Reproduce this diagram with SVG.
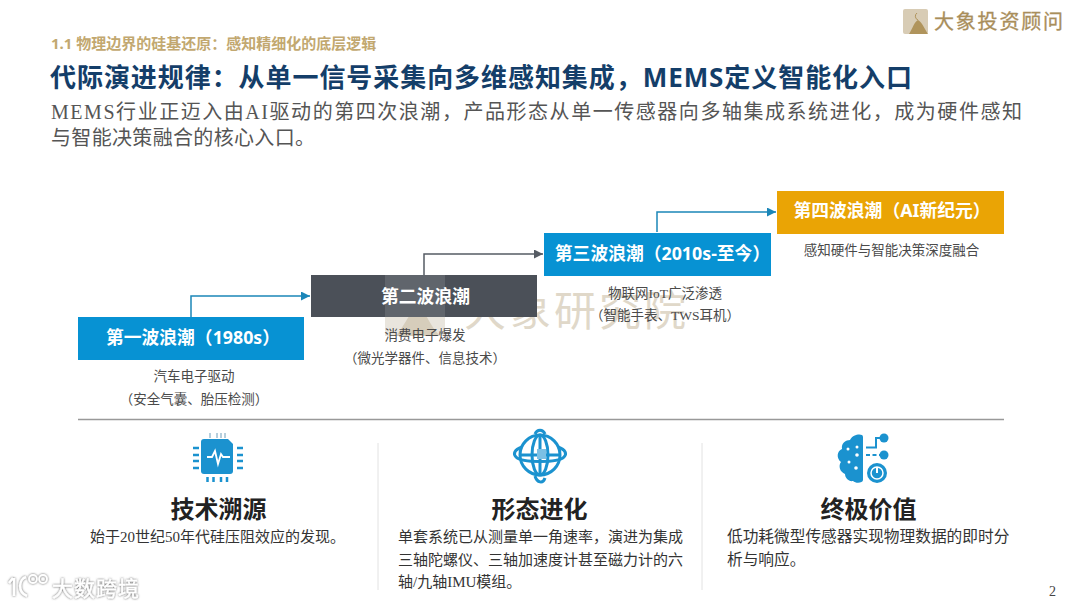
<svg xmlns="http://www.w3.org/2000/svg" width="1080" height="608" viewBox="0 0 1080 608">
<style>
text{font-family:"Liberation Sans","Noto Sans CJK SC",sans-serif}
.s{font-family:"Liberation Serif","Noto Sans CJK SC",serif}
.bx{font-family:"Noto Sans","Noto Sans CJK SC",sans-serif;font-weight:700;font-size:17.8px;fill:#fff;text-anchor:middle}
.d{font-family:"Liberation Serif","Noto Sans CJK SC",serif;font-size:13.5px;fill:#4a4a4a;text-anchor:middle}
.h{font-family:"Noto Sans CJK SC",sans-serif;font-weight:700;font-size:24px;fill:#222;text-anchor:middle}
.b{font-family:"Liberation Serif","Noto Sans CJK SC",serif;font-size:15px;fill:#333}
.c{fill:none;stroke-width:1.5}
.blue{fill:#0792d3}
.ic{fill:#1b92cf}
.icl{fill:none;stroke:#1b92cf}
</style>
<defs>
<marker id="ab" markerWidth="7" markerHeight="7" refX="6" refY="3" orient="auto"><path d="M0 0L6 3L0 6z" fill="#1b86b8"/></marker>
<marker id="ag" markerWidth="7" markerHeight="7" refX="6" refY="3" orient="auto"><path d="M0 0L6 3L0 6z" fill="#565c64"/></marker>
<filter id="sh" x="-20%" y="-30%" width="140%" height="160%"><feDropShadow dx="0" dy="0" stdDeviation="1.2" flood-color="#555" flood-opacity="1"/></filter>
</defs>
<rect width="1080" height="608" fill="#fff"/>

<g id="watermark">
<rect x="385" y="276" width="60" height="60" fill="#cfc6b4" opacity="0.45"/>
<path d="M396 336C404 326 410 312 418 305C426 312 430 326 440 336z" fill="#b5a17a" opacity="0.35"/>
<text x="464" y="326" font-size="42" fill="#e0d8c9" letter-spacing="3" style="font-family:'Noto Sans CJK SC',serif">大象研究院</text>
</g>

<g id="header">
<text x="51" y="49" font-size="15" font-weight="700" fill="#c2a870" style="font-family:'Noto Sans','Noto Sans CJK SC',sans-serif">1.1 物理边界的硅基还原：感知精细化的底层逻辑</text>
<text x="50" y="87" font-size="26" font-weight="700" fill="#143e69" textLength="862" style="font-family:'Noto Sans','Noto Sans CJK SC',sans-serif">代际演进规律：从单一信号采集向多维感知集成，MEMS定义智能化入口</text>
<text class="s" x="51" y="119" font-size="20" fill="#555" textLength="971">MEMS行业正迈入由AI驱动的第四次浪潮，产品形态从单一传感器向多轴集成系统进化，成为硬件感知</text>
<text class="s" x="51" y="145" font-size="20" fill="#555" textLength="264">与智能决策融合的核心入口。</text>
</g>

<g id="logo">
<rect x="903" y="9" width="25" height="25" rx="2" fill="#d8ccb5"/>
<path d="M909 34C913 28 914 22 918 20C922 22 924 28 928 34z" fill="#b0945c"/>
<path d="M917 13a4 4 0 0 0 1 7" fill="none" stroke="#b0945c" stroke-width="1"/>
<text x="934" y="29" font-size="20" fill="#a98e5b" stroke="#a98e5b" stroke-width="0.3" letter-spacing="1.8" style="font-family:'Noto Sans CJK SC',serif">大象投资顾问</text>
</g>

<g id="connectors">
<path class="c" d="M191 317V296H310" stroke="#1b86b8" marker-end="url(#ab)"/>
<path class="c" d="M424 275V254H543" stroke="#565c64" marker-end="url(#ag)"/>
<path class="c" d="M657 232V212H776" stroke="#1b86b8" marker-end="url(#ab)"/>
</g>

<g id="wave1">
<rect class="blue" x="78" y="317" width="226" height="43"/>
<text class="bx" x="193" y="344">第一波浪潮（1980s）</text>
<text class="d" x="194" y="381">汽车电子驱动</text>
<text class="d" x="194" y="404">（安全气囊、胎压检测）</text>
</g>
<g id="wave2">
<rect x="311" y="275" width="226" height="42" fill="#4b5058"/>
<rect x="385" y="275" width="60" height="42" fill="#fff" opacity="0.12"/>
<text class="bx" x="425.500" y="303">第二波浪潮</text>
<text class="d" x="425" y="340">消费电子爆发</text>
<text class="d" x="425" y="363">（微光学器件、信息技术）</text>
</g>
<g id="wave3">
<rect class="blue" x="544" y="233" width="227" height="43"/>
<text class="bx" x="662.500" y="260">第三波浪潮（2010s-至今）</text>
<text class="d" x="665" y="298">物联网IoT广泛渗透</text>
<text class="d" x="665" y="320">（智能手表、TWS耳机）</text>
</g>
<g id="wave4">
<rect x="777" y="191" width="227" height="43" fill="#eaa405"/>
<text class="bx" x="892" y="217">第四波浪潮（AI新纪元）</text>
<text class="d" x="891.500" y="255">感知硬件与智能决策深度融合</text>
</g>

<path id="divider" d="M78 419.500H1004" stroke="#999" stroke-width="1.5"/>
<path d="M378 443V590M702 443V590" stroke="#e2e2e2" stroke-width="1"/>

<g id="col1">
<g id="chip">
<path class="ic" d="M204 439H228L233 444V471a3 3 0 0 1-3 3H204a3 3 0 0 1-3-3V442a3 3 0 0 1 3-3z"/>
<path d="M207 457H212L215 451L218 464L221 454L223 457H230" fill="none" stroke="#fff" stroke-width="1.800"/>
<path d="M193 448H199M193 455H199M193 461H199M193 468H199M237 448H243M237 455H243M237 461H243M237 468H243" stroke="#1b92cf" stroke-width="2.500"/>
<path d="M207.500 477V482M213.500 477V482M221 477V482M227 477V482" stroke="#1b92cf" stroke-width="2.500"/>
<path d="M210 433V438M217 433V438M221 433V438M225 433V438" stroke="#4a86a8" stroke-width="0.800"/>
</g>
<text class="h" x="218.500" y="518">技术溯源</text>
<text class="b" x="90" y="542">始于20世纪50年代硅压阻效应的发现。</text>
</g>

<g id="col2">
<g id="globe" stroke-width="3">
<circle class="icl" cx="540" cy="455" r="20"/>
<ellipse class="icl" cx="540" cy="455" rx="8" ry="20"/>
<path class="icl" d="M520 455H560M540 435V475"/>
<path class="icl" d="M522 447C514 450 513 454 516 457C522 463 558 463 564 457C567 454 566 450 558 447"/>
<path class="icl" d="M535 434C537 429 543 429 545 434M535 476C537 483 543 484 545 478"/>
<rect x="537" y="449" width="9" height="10" fill="#7cc0e4" stroke="none"/>
</g>
<text class="h" x="539.500" y="518">形态进化</text>
<text class="b" x="398" y="542">单套系统已从测量单一角速率，演进为集成</text>
<text class="b" x="398" y="565">三轴陀螺仪、三轴加速度计甚至磁力计的六</text>
<text class="b" x="398" y="587">轴/九轴IMU模组。</text>
</g>

<g id="col3">
<g id="brain">
<path class="ic" d="M863 437V480C863 483 856 484 853 481C849 482 845 478 845 474C840 472 838 466 841 462C836 458 837 451 842 449C841 443 846 440 850 440C853 434 863 433 863 437z"/>
<g fill="#fff"><circle cx="848" cy="449" r="1.500"/><circle cx="857" cy="447" r="1.500"/><circle cx="857" cy="455" r="1.800"/><circle cx="849" cy="462" r="1.500"/><circle cx="856" cy="468" r="1.800"/></g>
<circle class="ic" cx="884" cy="438" r="4.500"/>
<circle class="ic" cx="884" cy="455" r="4.500"/>
<path class="icl" stroke-width="2" d="M866 447.500H876V438H881"/>
<path class="icl" stroke-width="2" stroke-dasharray="4 2.500" d="M866 455H880"/>
<circle class="ic" cx="877" cy="473" r="10"/>
<circle cx="877" cy="473" r="6" fill="none" stroke="#fff" stroke-width="1.500"/>
<path d="M877 467V473" stroke="#fff" stroke-width="2"/>
</g>
<text class="h" x="868.500" y="518">终极价值</text>
<text class="b" x="727" y="542" style="font-size:15.7px">低功耗微型传感器实现物理数据的即时分</text>
<text class="b" x="727" y="565" style="font-size:15.7px">析与响应。</text>
</g>

<text id="page" class="s" x="1049" y="596" font-size="14" fill="#444">2</text>

<g id="stamp" filter="url(#sh)">
<path d="M13 578L9 583M14 578V596" fill="none" stroke="#fff" stroke-width="2.500"/>
<path d="M26 577C19 579 17 592 27 596" fill="none" stroke="#fff" stroke-width="2.500"/>
<circle cx="33" cy="579" r="4" fill="none" stroke="#fff" stroke-width="1.800"/>
<circle cx="43" cy="579" r="4" fill="none" stroke="#fff" stroke-width="1.800"/>
<text x="52" y="596" font-size="21" fill="#fff" stroke="#fff" stroke-width="0.4" letter-spacing="1" style="font-family:'Noto Sans CJK SC',sans-serif">大数跨境</text>
</g>
</svg>
